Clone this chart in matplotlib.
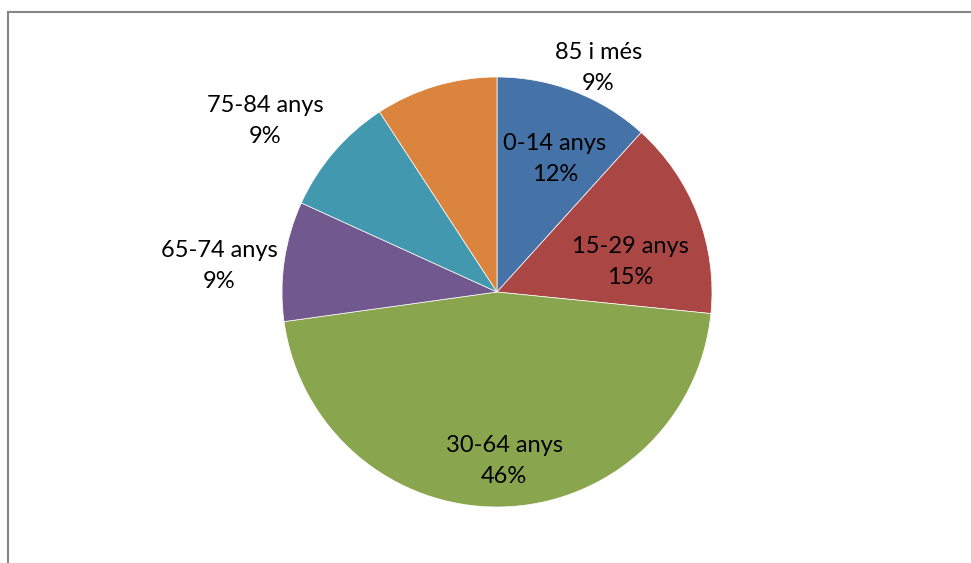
import matplotlib
matplotlib.use("Agg")
import matplotlib.pyplot as plt
from matplotlib.lines import Line2D
from matplotlib.transforms import ScaledTranslation
import numpy as np

categories = ["0-14 anys", "15-29 anys", "30-64 anys", "65-74 anys", "75-84 anys", "85 i més"]
values = [11.7, 14.9, 46.2, 9.0, 9.0, 9.2]
pct_labels = ["12%", "15%", "46%", "9%", "9%", "9%"]
colors = ["#4572A7", "#AA4643", "#89A54E", "#71588F", "#4198AF", "#DB843D"]

# label placement (radius fraction, angle from top clockwise in degrees)
label_pos = [(0.69, 23), (0.64, 76), (0.77, 177.5), (1.30, 276), (1.35, 307), (1.16, 24)]

W, H = 971, 563
fig = plt.figure(figsize=(W / 100, H / 100), dpi=100)
fig.patch.set_facecolor("white")

cx, cy, r = 497, 292, 215
ax = fig.add_axes([(cx - r) / W, (H - cy - r) / H, 2 * r / W, 2 * r / H])
ax.pie(values, colors=colors, startangle=90, counterclock=False,
       radius=1.0, wedgeprops=dict(linewidth=0.5, edgecolor="white"))
ax.set_xlim(-1, 1)
ax.set_ylim(-1, 1)
ax.set_aspect("auto")
ax.axis("off")

shift = ax.transData + ScaledTranslation(0, -0.035, fig.dpi_scale_trans)
for cat, pct, (d, ang) in zip(categories, pct_labels, label_pos):
    a = np.deg2rad(ang)
    x = d * np.sin(a)
    y = d * np.cos(a)
    ax.text(x, y, f"{cat}\n{pct}", ha="center", va="center", transform=shift,
            fontsize=17, family=["Lato", "DejaVu Sans"], color="black",
            linespacing=1.6, clip_on=False)

# chart border (top and left visible)
fig.add_artist(Line2D([8 / W, 8 / W], [0, 1 - 12 / H], transform=fig.transFigure,
                      color="#868686", linewidth=1.5))
fig.add_artist(Line2D([8 / W, 1], [1 - 12 / H, 1 - 12 / H], transform=fig.transFigure,
                      color="#868686", linewidth=1.5))

fig.savefig("out.png", dpi=100, facecolor="white")
